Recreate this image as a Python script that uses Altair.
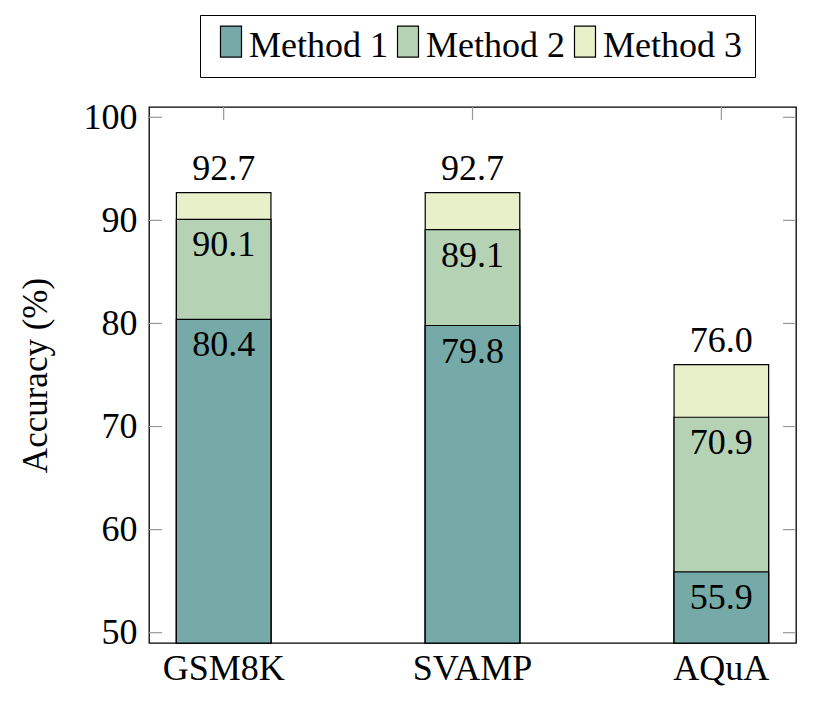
import altair as alt
import pandas as pd

datasets = ["GSM8K", "SVAMP", "AQuA"]
methods = ["Method 1", "Method 2", "Method 3"]
method1 = [80.4, 79.8, 55.9]
method2 = [90.1, 89.1, 70.9]
method3 = [92.7, 92.7, 76.0]
y_ticks = [50, 60, 70, 80, 90, 100]
colors = ["#76aaa8", "#b6d2b4", "#e8f0ca"]

rows = []
for m, vals in zip(["Method 3", "Method 2", "Method 1"], [method3, method2, method1]):
    for d, v in zip(datasets, vals):
        rows.append({"dataset": d, "method": m, "value": v, "base": 49.0,
                     "label": f"{v:.1f}", "inside": m != "Method 3"})
df = pd.DataFrame(rows)
ticks_df = pd.DataFrame({"t": y_ticks})
cat_df = pd.DataFrame({"dataset": datasets})

FONT = "Liberation Serif"
W, H = 647, 536

xs = alt.Scale(domain=datasets, paddingInner=0.62, paddingOuter=0.11)
ys = alt.Scale(domain=[49.0, 101.0], nice=False, zero=False)

x_axis = alt.Axis(title=None, labelAngle=0, ticks=False, domain=False,
                  labelFont=FONT, labelFontSize=36, labelColor="black",
                  labelPadding=8)
y_axis = alt.Axis(title="Accuracy (%)", values=y_ticks, ticks=False, domain=False, grid=False,
                  labelFont=FONT, labelFontSize=36, labelColor="black", labelPadding=12,
                  titleFont=FONT, titleFontSize=35, titleFontWeight="normal",
                  titleColor="black", titlePadding=30)

tick_color = "#999999"
left_ticks = alt.Chart(ticks_df).mark_rule(color=tick_color, strokeWidth=1.2).encode(
    y=alt.Y("t:Q", scale=ys, axis=y_axis), x=alt.value(0), x2=alt.value(13))
right_ticks = alt.Chart(ticks_df).mark_rule(color=tick_color, strokeWidth=1.2).encode(
    y=alt.Y("t:Q", scale=ys), x=alt.value(W - 13), x2=alt.value(W))
top_ticks = alt.Chart(cat_df).mark_rule(color=tick_color, strokeWidth=1.2).encode(
    x=alt.X("dataset:N", scale=xs, sort=datasets, axis=x_axis), y=alt.value(0), y2=alt.value(13))

bars = alt.Chart(df).mark_bar(stroke="black", strokeWidth=1.2, opacity=1).encode(
    x=alt.X("dataset:N", scale=xs, sort=datasets, axis=x_axis),
    y=alt.Y("value:Q", scale=ys, stack=None),
    y2=alt.Y2("base:Q"),
    color=alt.Color("method:N", scale=alt.Scale(domain=methods, range=colors),
                    legend=alt.Legend(
                        title=None, orient="none", legendX=51, legendY=-92,
                        direction="horizontal",
                        symbolType="M-1,-1.9H1V1.05H-1Z", symbolSize=441,
                        symbolStrokeColor="black", symbolStrokeWidth=1.2,
                        labelFont=FONT, labelFontSize=36, labelColor="black",
                        labelOffset=0, columnPadding=2,
                        strokeColor="black", fillColor="white", padding=13,
                        cornerRadius=0)),
    order=alt.Order("value:Q", sort="descending"),
)

inside_labels = alt.Chart(df).transform_filter("datum.inside").mark_text(
    font=FONT, fontSize=36, color="black", baseline="top", dy=9).encode(
    x=alt.X("dataset:N", scale=xs, sort=datasets),
    y=alt.Y("value:Q", scale=ys), text="label:N")
top_labels = alt.Chart(df).transform_filter("!datum.inside").mark_text(
    font=FONT, fontSize=36, color="black", baseline="bottom", dy=-5).encode(
    x=alt.X("dataset:N", scale=xs, sort=datasets),
    y=alt.Y("value:Q", scale=ys), text="label:N")

chart = alt.layer(left_ticks, right_ticks, top_ticks, bars, inside_labels, top_labels).properties(
    width=W, height=H,
    background="white",
    autosize=alt.AutoSizeParams(type="none"),
    padding={"left": 149, "top": 107, "right": 26, "bottom": 61},
).configure_view(stroke="black", strokeWidth=1.3)

chart.save("out.html", embed_options={"renderer": "svg", "actions": False})
